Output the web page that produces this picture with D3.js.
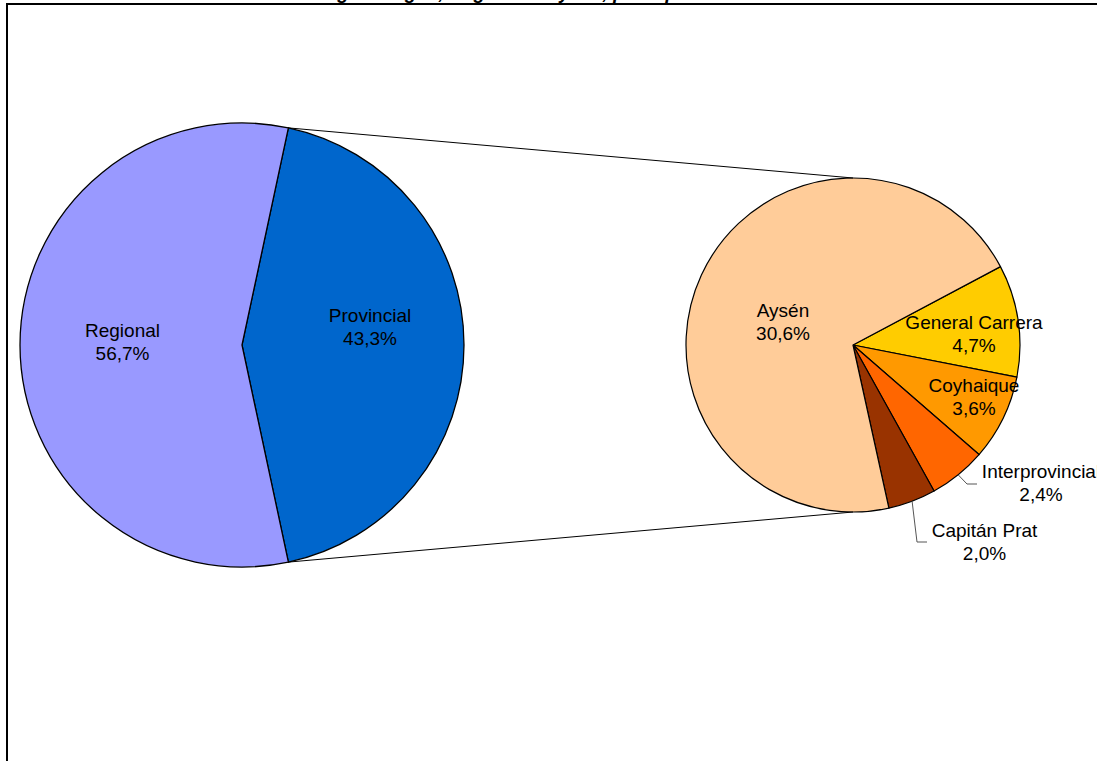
<!DOCTYPE html>
<html>
<head>
<meta charset="utf-8">
<script src="https://cdn.jsdelivr.net/npm/d3@7"></script>
<style>
  html, body { margin: 0; padding: 0; background: #fff; }
  svg { display: block; }
  text { font-family: "Liberation Sans", Arial, sans-serif; }
</style>
</head>
<body>
<svg id="chart" width="1097" height="761"></svg>
<script>
// ---- Data ----
const titleText = "Distribución según Origen, Región de Aysén, por Tipo de Inversión";
const mainCategories = ["Provincial", "Regional"];
const mainValues = [43.3, 56.7];
const mainColors = ["#0066CC", "#9999FF"];

const subCategories = ["General Carrera", "Coyhaique", "Interprovincial", "Capitán Prat", "Aysén"];
const subValues = [4.7, 3.6, 2.4, 2.0, 30.6];
const subColors = ["#FFCC00", "#FF9900", "#FF6600", "#993300", "#FFCC99"];

const fmt = v => d3.format(".1f")(v).replace(".", ",") + "%";

// ---- Layout ----
const svg = d3.select("#chart");
const W = 1097, H = 761;
const deg = Math.PI / 180;

// frame
svg.append("rect").attr("x", 7).attr("y", 4).attr("width", W + 20).attr("height", H + 20)
  .attr("fill", "none").attr("stroke", "#000").attr("stroke-width", 2);

// title (cut off at the top, as in the reference)
svg.append("text").attr("x", 200).attr("y", -1).attr("text-anchor", "start")
  .attr("font-size", 19).attr("font-weight", "bold").attr("font-style", "italic")
  .text(titleText);

const L = { cx: 242, cy: 345, r: 222 };
const R = { cx: 853, cy: 345, r: 167 };

// main pie: Provincial slice centred on the right (east)
const provSpan = mainValues[0] / d3.sum(mainValues) * 2 * Math.PI;
const mainStart = Math.PI / 2 - provSpan / 2;
const mainPie = d3.pie().sort(null).value(d => d).startAngle(mainStart).endAngle(mainStart + 2 * Math.PI);
const mainArcs = mainPie(mainValues);
const mainArc = d3.arc().innerRadius(0).outerRadius(L.r);

const gL = svg.append("g").attr("transform", `translate(${L.cx},${L.cy})`);
gL.selectAll("path").data(mainArcs).join("path")
  .attr("d", mainArc).attr("fill", (d, i) => mainColors[i])
  .attr("stroke", "#000").attr("stroke-width", 1.3).attr("stroke-linejoin", "round");

// secondary pie
const subStart = 62 * deg;
const subPie = d3.pie().sort(null).value(d => d).startAngle(subStart).endAngle(subStart + 2 * Math.PI);
const subArcs = subPie(subValues);
const subArc = d3.arc().innerRadius(0).outerRadius(R.r);

const gR = svg.append("g").attr("transform", `translate(${R.cx},${R.cy})`);
gR.selectAll("path").data(subArcs).join("path")
  .attr("d", subArc).attr("fill", (d, i) => subColors[i])
  .attr("stroke", "#000").attr("stroke-width", 1.2).attr("stroke-linejoin", "round");

// connector lines
const polar = (c, r, a) => [c.cx + r * Math.sin(a), c.cy - r * Math.cos(a)];
const pTop = polar(L, L.r, mainArcs[0].startAngle);
const pBot = polar(L, L.r, mainArcs[0].endAngle);
svg.append("line").attr("x1", pTop[0]).attr("y1", pTop[1]).attr("x2", R.cx).attr("y2", R.cy - R.r)
  .attr("stroke", "#000").attr("stroke-width", 1);
svg.append("line").attr("x1", pBot[0]).attr("y1", pBot[1]).attr("x2", R.cx).attr("y2", R.cy + R.r)
  .attr("stroke", "#000").attr("stroke-width", 1);

// ---- Labels ----
const fs = 19, lh = 23;
function label(x, y, name, val) {
  const t = svg.append("text").attr("font-size", fs).attr("text-anchor", "middle").attr("fill", "#000");
  t.append("tspan").attr("x", x).attr("y", y).text(name);
  t.append("tspan").attr("x", x).attr("y", y + lh).text(fmt(val));
}
// label offsets (relative to pie centre), first-line baseline
const mainLabelOffsets = [[128, -23], [-119.5, -8]];
mainArcs.forEach((d, i) => label(L.cx + mainLabelOffsets[i][0], L.cy + mainLabelOffsets[i][1], mainCategories[i], mainValues[i]));

const subLabelOffsets = [[121, -16], [121, 47], [188, 133], [131.5, 192], [-70, -28]];
subArcs.forEach((d, i) => label(R.cx + subLabelOffsets[i][0], R.cy + subLabelOffsets[i][1], subCategories[i], subValues[i]));

// leader lines for small slices
const leaders = [
  { i: 2, mid: [114, 139], end: [124, 139] },
  { i: 3, mid: [64, 197], end: [74, 197] }
];
leaders.forEach(l => {
  const a = (subArcs[l.i].startAngle + subArcs[l.i].endAngle) / 2;
  const p0 = polar(R, R.r, a);
  const pts = [p0, [R.cx + l.mid[0], R.cy + l.mid[1]], [R.cx + l.end[0], R.cy + l.end[1]]];
  svg.append("path").attr("d", d3.line()(pts)).attr("fill", "none")
    .attr("stroke", "#555").attr("stroke-width", 1);
});
</script>
</body>
</html>
